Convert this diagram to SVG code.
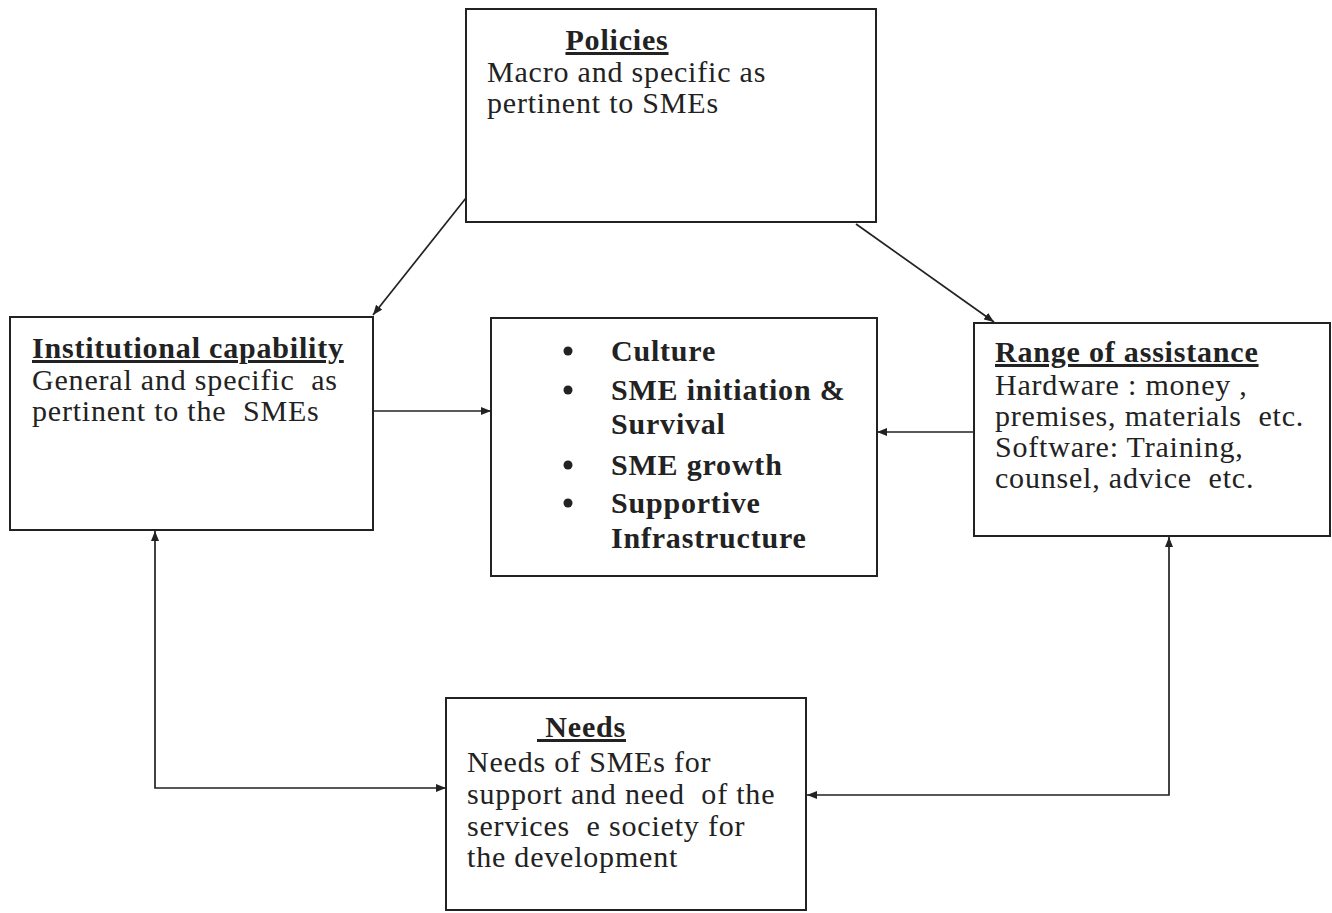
<svg xmlns="http://www.w3.org/2000/svg" width="1332" height="913" viewBox="0 0 1332 913">
<defs>
<marker id="arr" viewBox="0 0 10 8" refX="10" refY="4" markerWidth="10" markerHeight="8" markerUnits="userSpaceOnUse" orient="auto-start-reverse">
<path d="M0,0 L10,4 L0,8 Z" fill="#222"/>
</marker>
<style>
.box{fill:#fff;stroke:#222;stroke-width:2}
.t{font-family:"Liberation Serif","Times New Roman",serif;font-size:30px;letter-spacing:0.8px;fill:#222}
.h{font-family:"Liberation Serif","Times New Roman",serif;font-size:30px;letter-spacing:0.8px;font-weight:bold;fill:#222;text-decoration:underline}
.b{font-family:"Liberation Serif","Times New Roman",serif;font-size:30px;letter-spacing:0.8px;font-weight:bold;fill:#222}
.c{fill:none;stroke:#222;stroke-width:1.7}
</style>
</defs>
<rect width="1332" height="913" fill="#fff"/>
<g id="connectors">
<path class="c" d="M466,198 L373,315" marker-end="url(#arr)"/>
<path class="c" d="M856,224 L994,322" marker-end="url(#arr)"/>
<path class="c" d="M373,411 L491,411" marker-end="url(#arr)"/>
<path class="c" d="M974,432 L877,432" marker-end="url(#arr)"/>
<path class="c" d="M155,531 L155,788 L446,788" marker-start="url(#arr)" marker-end="url(#arr)"/>
<path class="c" d="M1169,537 L1169,795 L807,795" marker-start="url(#arr)" marker-end="url(#arr)"/>
</g>
<g id="policies">
<rect class="box" x="466" y="9" width="410" height="213"/>
<text class="h" x="617" y="50" text-anchor="middle">Policies</text>
<text class="t" x="487" y="82">Macro and specific as</text>
<text class="t" x="487" y="113">pertinent to SMEs</text>
</g>
<g id="institutional">
<rect class="box" x="10" y="317" width="363" height="213"/>
<text class="h" x="32" y="358">Institutional capability</text>
<text class="t" x="32" y="390" xml:space="preserve">General and specific  as</text>
<text class="t" x="32" y="421" xml:space="preserve">pertinent to the  SMEs</text>
</g>
<g id="central">
<rect class="box" x="491" y="318" width="386" height="258"/>
<g class="b">
<circle cx="568" cy="351" r="4.5" fill="#222"/>
<circle cx="568" cy="390" r="4.5" fill="#222"/>
<circle cx="568" cy="465" r="4.5" fill="#222"/>
<circle cx="568" cy="503" r="4.5" fill="#222"/>
<text x="611" y="361">Culture</text>
<text x="611" y="400">SME initiation &amp;</text>
<text x="611" y="434">Survival</text>
<text x="611" y="475">SME growth</text>
<text x="611" y="513">Supportive</text>
<text x="611" y="548">Infrastructure</text>
</g>
</g>
<g id="range">
<rect class="box" x="974" y="323" width="356" height="213"/>
<text class="h" x="995" y="362">Range of assistance</text>
<text class="t" x="995" y="395">Hardware : money ,</text>
<text class="t" x="995" y="426" xml:space="preserve">premises, materials  etc.</text>
<text class="t" x="995" y="457">Software: Training,</text>
<text class="t" x="995" y="488" xml:space="preserve">counsel, advice  etc.</text>
</g>
<g id="needs">
<rect class="box" x="446" y="698" width="360" height="212"/>
<text class="h" x="537" y="737" xml:space="preserve"> Needs</text>
<text class="t" x="467" y="772">Needs of SMEs for</text>
<text class="t" x="467" y="804" xml:space="preserve">support and need  of the</text>
<text class="t" x="467" y="836" xml:space="preserve">services  e society for</text>
<text class="t" x="467" y="867">the development</text>
</g>
</svg>
